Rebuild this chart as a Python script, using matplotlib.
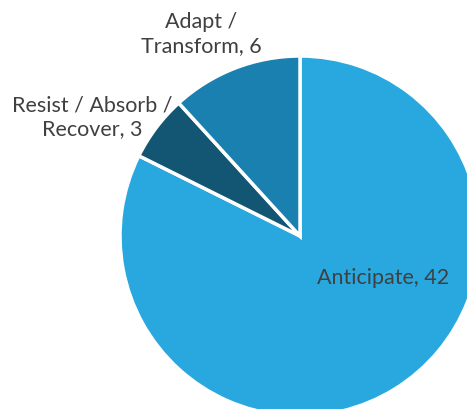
import matplotlib
matplotlib.use("Agg")
import matplotlib.pyplot as plt

categories = ["Anticipate", "Resist / Absorb /\nRecover", "Adapt /\nTransform"]
values = [42, 3, 6]
colors = ["#29A8E0", "#135674", "#1A80B0"]

W, H = 467, 410
fig = plt.figure(figsize=(W / 100, H / 100), dpi=100)
ax = fig.add_axes([0, 0, 1, 1])

cx, cy, r = 300, H - 237, 180
ax.pie(values, colors=colors, startangle=90, counterclock=False,
       center=(cx, cy), radius=r, frame=True,
       wedgeprops=dict(edgecolor="white", linewidth=2.5))
ax.set_xlim(0, W)
ax.set_ylim(0, H)
ax.set_aspect("equal")
ax.axis("off")

label_pos = [(383, H - 278), (92, H - 117), (201, H - 34)]
for name, v, (x, y) in zip(categories, values, label_pos):
    ax.text(x, y, f"{name}, {v}", ha="center", va="center",
            fontsize=15.5, color="#404040", family="Lato", linespacing=1.2)

fig.savefig("out.png", dpi=100)
